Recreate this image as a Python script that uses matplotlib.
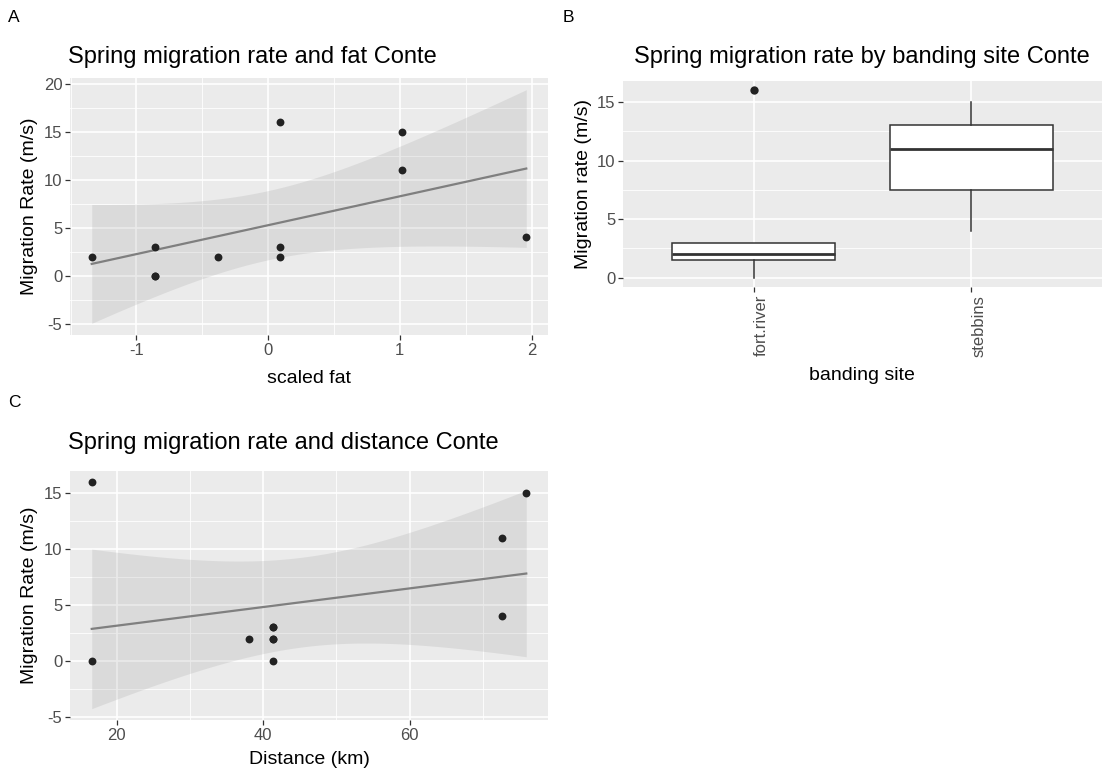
import matplotlib
matplotlib.use("Agg")
import matplotlib.pyplot as plt
import matplotlib.transforms as mtransforms
import numpy as np

plt.rcParams['font.family'] = ['Liberation Sans', 'DejaVu Sans']
plt.rcParams['axes.unicode_minus'] = False

# migration rate vs scaled fat (one row per bird)
fat = [-1.34, -0.86, -0.86, -0.86, -0.38, 0.09, 0.09, 0.09, 1.02, 1.02, 1.96]
rate_fat = [2, 3, 0, 0, 2, 16, 3, 2, 15, 11, 4]

# migration rate by banding site
sites = ['fort.river', 'stebbins']
rate_fort_river = [0, 0, 2, 2, 2, 3, 3, 16]
rate_stebbins = [4, 11, 15]

# migration rate vs distance
distance_km = [16.6, 16.6, 38.1, 41.3, 41.3, 41.3, 41.3, 41.3, 72.6, 72.6, 75.9]
rate_dist = [16, 0, 2, 2, 2, 3, 3, 0, 11, 4, 15]

T975 = {9: 2.262157}  # Student t, 97.5% quantile

W, H = 1102, 773
PANEL_BG = '#EBEBEB'
TICK_TXT = '#4D4D4D'
TICK_CLR = '#333333'
TITLE_SIZE = 17
LABEL_SIZE = 14
TICK_SIZE = 12


def px_box(left, top, right, bottom):
    return [left / W, 1 - bottom / H, (right - left) / W, (bottom - top) / H]


def ftext(fig, x, y, s, **kw):
    fig.text(x / W, 1 - y / H, s, **kw)


def lm_band(x, y, n_grid=80):
    x = np.asarray(x, float)
    y = np.asarray(y, float)
    n = len(x)
    slope, intercept = np.polyfit(x, y, 1)
    resid = y - (slope * x + intercept)
    s = np.sqrt((resid ** 2).sum() / (n - 2))
    sxx = ((x - x.mean()) ** 2).sum()
    xs = np.linspace(x.min(), x.max(), n_grid)
    fit = slope * xs + intercept
    se = s * np.sqrt(1 / n + (xs - x.mean()) ** 2 / sxx)
    half = T975[n - 2] * se
    return xs, fit, fit - half, fit + half


def expand(lo, hi, mult=0.05):
    r = hi - lo
    return lo - mult * r, hi + mult * r


def style_axes(ax, xmajor, xminor, ymajor, yminor):
    ax.set_facecolor(PANEL_BG)
    for sp in ax.spines.values():
        sp.set_visible(False)
    for v in xminor:
        ax.axvline(v, color='white', lw=0.6, zorder=0)
    for v in yminor:
        ax.axhline(v, color='white', lw=0.6, zorder=0)
    for v in xmajor:
        ax.axvline(v, color='white', lw=1.2, zorder=0)
    for v in ymajor:
        ax.axhline(v, color='white', lw=1.2, zorder=0)
    ax.set_xticks(xmajor)
    ax.set_yticks(ymajor)
    ax.tick_params(length=3.5, width=0.9, color=TICK_CLR, labelcolor=TICK_TXT,
                   labelsize=TICK_SIZE, pad=2)


def scatter_fit(ax, x, y):
    xs, fit, lo, hi = lm_band(x, y)
    ax.fill_between(xs, lo, hi, color='#999999', alpha=0.2, lw=0, zorder=1)
    ax.plot(xs, fit, color='#7F7F7F', lw=1.6, zorder=2)
    ax.scatter(x, y, s=32, color='#222222', lw=0, zorder=3)
    ax.set_xlim(*expand(min(x), max(x)))
    ax.set_ylim(*expand(min(lo.min(), min(y)), max(hi.max(), max(y))))


fig = plt.figure(figsize=(W / 100, H / 100), dpi=100)

# A: fat
axA = fig.add_axes(px_box(70, 78, 548, 335))
scatter_fit(axA, fat, rate_fat)
style_axes(axA, [-1, 0, 1, 2], [-1.5, -0.5, 0.5, 1.5],
           [-5, 0, 5, 10, 15, 20], [-2.5, 2.5, 7.5, 12.5, 17.5])
ftext(fig, 8, 17, 'A', fontsize=12.5, va='center', ha='left')
ftext(fig, 68, 57, 'Spring migration rate and fat Conte', fontsize=TITLE_SIZE, va='center', ha='left')
ftext(fig, 309, 378, 'scaled fat', fontsize=LABEL_SIZE, va='center', ha='center')
ftext(fig, 30, 206, 'Migration Rate (m/s)', fontsize=LABEL_SIZE, va='center', ha='center', rotation=90)

# B: banding site
axB = fig.add_axes(px_box(623, 81, 1102, 287))
axB.boxplot([rate_fort_river, rate_stebbins], positions=[1, 2], widths=0.75,
            patch_artist=True, whis=1.5,
            boxprops=dict(facecolor='white', edgecolor=TICK_CLR, lw=1.1),
            medianprops=dict(color=TICK_CLR, lw=2.0),
            whiskerprops=dict(color=TICK_CLR, lw=1.1),
            capprops=dict(visible=False),
            flierprops=dict(marker='o', markersize=6, markerfacecolor='#222222',
                            markeredgecolor='none'))
allB = rate_fort_river + rate_stebbins
axB.set_xlim(0.4, 2.6)
axB.set_ylim(*expand(min(allB), max(allB)))
style_axes(axB, [1, 2], [], [0, 5, 10, 15], [2.5, 7.5, 12.5])
axB.set_xticklabels(sites, rotation=90, va='top')
# rotated site names sit just right of their ticks
shift = mtransforms.ScaledTranslation(8 / 100, 0, fig.dpi_scale_trans)
for lbl in axB.get_xticklabels():
    lbl.set_transform(lbl.get_transform() + shift)
ftext(fig, 563, 17, 'B', fontsize=12.5, va='center', ha='left')
ftext(fig, 634, 57, 'Spring migration rate by banding site Conte', fontsize=TITLE_SIZE, va='center', ha='left')
ftext(fig, 862, 375, 'banding site', fontsize=LABEL_SIZE, va='center', ha='center')
ftext(fig, 583, 184, 'Migration rate (m/s)', fontsize=LABEL_SIZE, va='center', ha='center', rotation=90)

# C: distance
axC = fig.add_axes(px_box(70, 471, 548, 720))
scatter_fit(axC, distance_km, rate_dist)
style_axes(axC, [20, 40, 60], [10, 30, 50, 70],
           [-5, 0, 5, 10, 15], [-2.5, 2.5, 7.5, 12.5])
ftext(fig, 8, 402, 'C', fontsize=12.5, va='center', ha='left')
ftext(fig, 68, 443, 'Spring migration rate and distance Conte', fontsize=TITLE_SIZE, va='center', ha='left')
ftext(fig, 309, 760, 'Distance (km)', fontsize=LABEL_SIZE, va='center', ha='center')
ftext(fig, 30, 595, 'Migration Rate (m/s)', fontsize=LABEL_SIZE, va='center', ha='center', rotation=90)

fig.savefig('out.png', dpi=100)
